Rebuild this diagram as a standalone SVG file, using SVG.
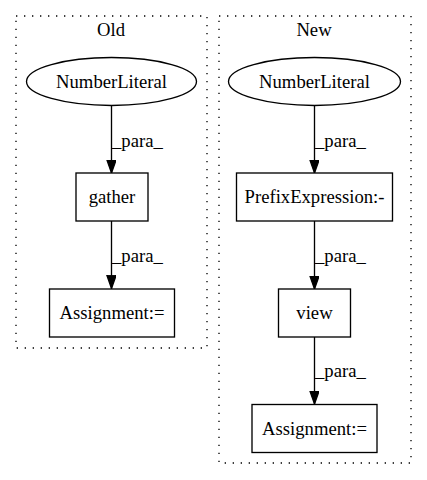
<svg xmlns="http://www.w3.org/2000/svg" width="427" height="480" viewBox="0 0 427 480" font-family="'Liberation Serif', 'Times New Roman', serif">
<style>
text{font-family:'Liberation Serif','Times New Roman','DejaVu Serif',serif;font-size:18.67px;fill:#000}
.c{fill:none;stroke:#000;stroke-width:1.33;stroke-dasharray:1.33,6.67}
.n{fill:#fff;stroke:#000;stroke-width:1.33}
.e{fill:none;stroke:#000;stroke-width:1.33}
.m{text-anchor:middle}
</style>
<defs>
<marker id="ah" markerWidth="14" markerHeight="10" refX="13.3" refY="4.67" orient="auto" markerUnits="userSpaceOnUse">
<path d="M0,0 L13.3,4.67 L0,9.33 Z" fill="#000" stroke="#000" stroke-width="1.33"/>
</marker>
</defs>
<rect width="427" height="480" fill="#fff"/>
<g id="cluster_old">
<rect class="c" x="16" y="16" width="191" height="332"/>
<text class="m" x="111" y="36">Old</text>
</g>
<g id="cluster_new">
<rect class="c" x="219" y="16" width="192" height="447"/>
<text class="m" x="314" y="36">New</text>
</g>
<g id="connectors">
<line class="e" x1="111.5" y1="105.5" x2="111.5" y2="173" marker-end="url(#ah)"/>
<text x="112" y="147">_para_</text>
<line class="e" x1="111.5" y1="221" x2="111.5" y2="288.5" marker-end="url(#ah)"/>
<text x="112" y="262">_para_</text>
<line class="e" x1="314.5" y1="105.5" x2="314.5" y2="173" marker-end="url(#ah)"/>
<text x="315" y="147">_para_</text>
<line class="e" x1="314.5" y1="221" x2="314.5" y2="289" marker-end="url(#ah)"/>
<text x="315" y="262">_para_</text>
<line class="e" x1="314.5" y1="337" x2="314.5" y2="404" marker-end="url(#ah)"/>
<text x="315" y="377">_para_</text>
</g>
<g id="old_numberliteral">
<ellipse class="n" cx="111.5" cy="81.5" rx="85" ry="24"/>
<text class="m" x="111.5" y="88">NumberLiteral</text>
</g>
<g id="old_gather">
<rect class="n" x="76" y="173" width="72" height="48"/>
<text class="m" x="112" y="203">gather</text>
</g>
<g id="old_assignment">
<rect class="n" x="49.5" y="289" width="125" height="48"/>
<text class="m" x="112" y="319">Assignment:=</text>
</g>
<g id="new_numberliteral">
<ellipse class="n" cx="314.5" cy="81.5" rx="86" ry="24"/>
<text class="m" x="314.5" y="88">NumberLiteral</text>
</g>
<g id="new_prefix">
<rect class="n" x="236.5" y="173" width="156" height="48"/>
<text class="m" x="314.5" y="203">PrefixExpression:-</text>
</g>
<g id="new_view">
<rect class="n" x="278.5" y="289" width="72" height="48"/>
<text class="m" x="314.5" y="319">view</text>
</g>
<g id="new_assignment">
<rect class="n" x="252" y="404.5" width="125" height="48"/>
<text class="m" x="314.5" y="435">Assignment:=</text>
</g>
</svg>
